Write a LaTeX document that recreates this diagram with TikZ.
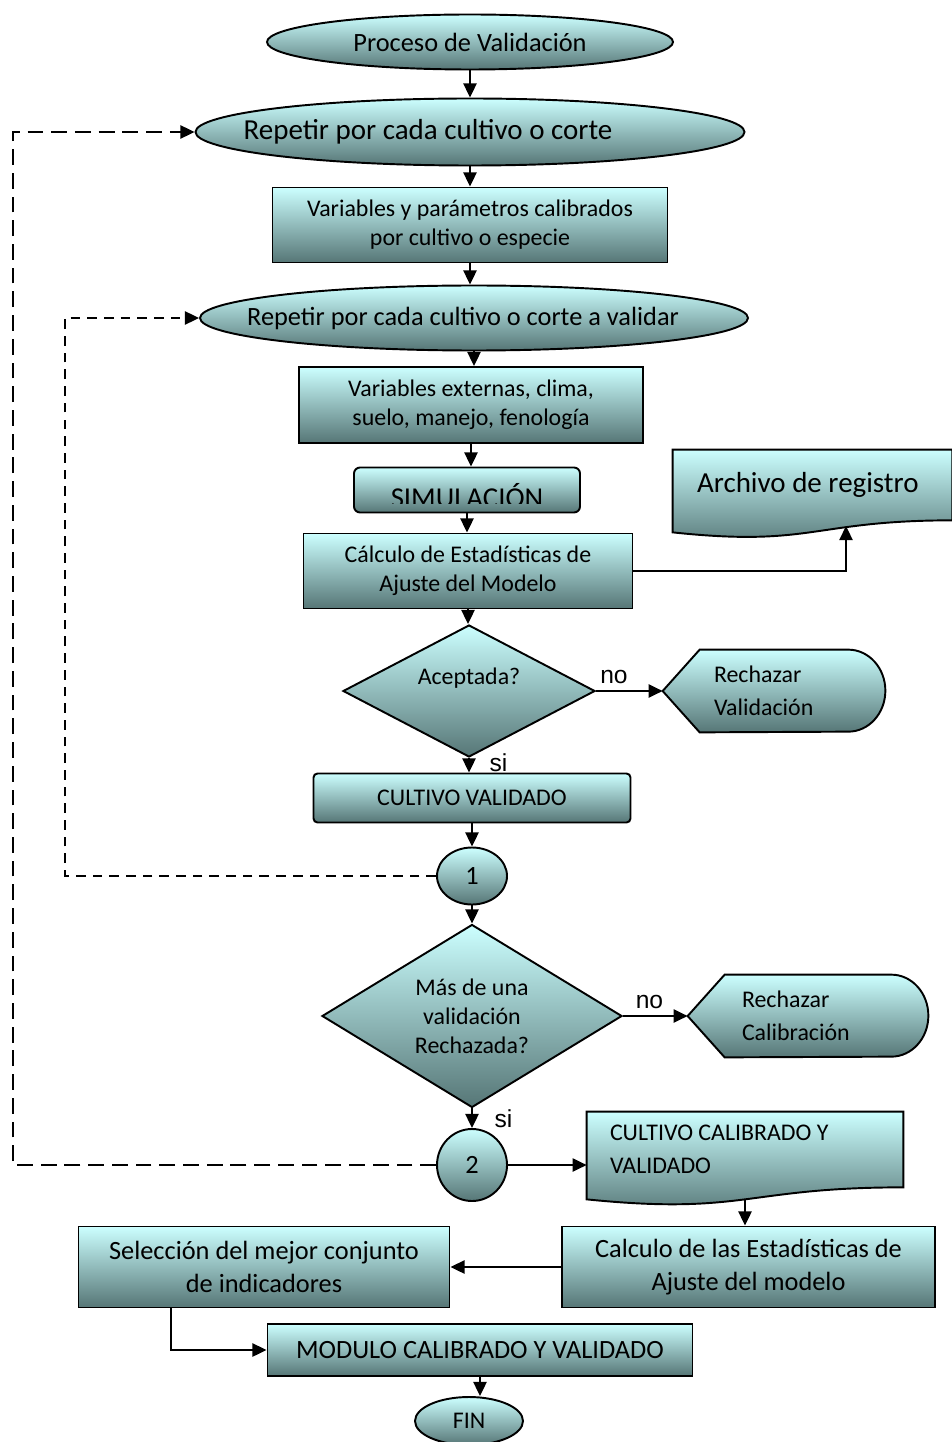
\documentclass[tikz,border=0pt]{standalone}
\usepackage{fontspec}
\setmainfont{Carlito}
\newfontfamily\arialfont{Liberation Sans}
\usetikzlibrary{shapes.geometric,arrows.meta,backgrounds}

\newlength{\pxl}
\setlength{\pxl}{0.02cm}

\definecolor{shadetop}{RGB}{204,255,255}
\definecolor{shadebot}{RGB}{86,118,118}

\tikzstyle{fillshade} = [draw,line width=1.1pt,top color=shadetop,bottom color=shadebot]
\tikzstyle{block} = [fillshade,rectangle,align=center,inner sep=0pt]
\tikzstyle{terminal} = [fillshade,ellipse,inner sep=0pt]
\tikzstyle{decision} = [fillshade,diamond,inner sep=0pt,align=center]
\tikzstyle{joint} = [fillshade,ellipse,inner sep=0pt]
\tikzstyle{textonly} = [rectangle,inner sep=0pt,align=flush left]
\tikzstyle{normaltext} = [font=\fontsize{13.6}{16.4}\selectfont]
\tikzstyle{spacedtext} = [font=\fontsize{13.6}{18.7}\selectfont]
\tikzstyle{largetext} = [font=\fontsize{15}{18.7}\selectfont]
\tikzstyle{answer} = [font=\arialfont\fontsize{14}{16}\selectfont,inner sep=1pt]
\tikzstyle{arrowdecorate} = [-{Triangle[length=8pt,width=7.5pt]},line width=1pt]
\tikzstyle{backedge} = [arrowdecorate,dash pattern=on 9pt off 4.5pt]
\tikzstyle{innerbackedge} = [arrowdecorate,dash pattern=on 5.5pt off 4pt]

\begin{document}
\begin{tikzpicture}[x=0.02cm,y=-0.02cm]
  \useasboundingbox (0,0) rectangle (952,1442);

  % main column
  \node[terminal,largetext,minimum width=406\pxl,minimum height=55\pxl] (start) at (470,42) {Proceso de Validación};
  \node[terminal,minimum width=549\pxl,minimum height=67\pxl,
    label={[font=\fontsize{16.5}{19}\selectfont,xshift=-42\pxl]center:Repetir por cada cultivo o corte}] (rep1) at (470,132) {};
  \node[block,normaltext,minimum width=395\pxl,minimum height=75\pxl] (param) at (470,225) {Variables y parámetros calibrados\\por cultivo o especie};
  \node[terminal,minimum width=548\pxl,minimum height=65\pxl,
    label={[largetext,xshift=-11\pxl]center:Repetir por cada cultivo o corte a validar}] (rep2) at (474,318) {};
  \node[block,normaltext,minimum width=344\pxl,minimum height=76\pxl] (extvar) at (471,405) {Variables externas, clima,\\suelo, manejo, fenología};
  \node[block,rounded corners=6\pxl,minimum width=226\pxl,minimum height=45\pxl,
    path picture={
      \clip ([yshift=9\pxl]path picture bounding box.south west) rectangle (path picture bounding box.north east);
      \node[font=\fontsize{16.4}{19}\selectfont,anchor=base] at ([yshift=-17\pxl]path picture bounding box.center) {SIMULACIÓN};
    }] (sim) at (467,490) {};
  \node[block,normaltext,minimum width=329\pxl,minimum height=75\pxl] (calc) at (468,571) {Cálculo de Estadísticas de\\Ajuste del Modelo};
  \node[decision,minimum width=252\pxl,minimum height=132\pxl,
    label={[normaltext,yshift=13\pxl]center:Aceptada?}] (accept) at (469,691) {};
  \node[block,normaltext,rounded corners=4\pxl,minimum width=317\pxl,minimum height=49\pxl] (cultval) at (472,798) {CULTIVO VALIDADO};
  \node[joint,largetext,minimum width=70\pxl,minimum height=57\pxl] (con1) at (472,876) {1};
  \node[decision,normaltext,shape aspect=1.6,minimum width=300\pxl,minimum height=183\pxl] (moreone) at (472,1016) {Más de una\\validación\\Rechazada?};
  \node[joint,largetext,minimum width=70\pxl,minimum height=72\pxl] (con2) at (472,1165) {2};

  % side outputs
  \node[textonly,font=\fontsize{16.5}{20}\selectfont,text width=231\pxl,inner xsep=24\pxl,minimum height=70\pxl] (logfile) at (812.5,485) {Archivo de registro};
  \node[textonly,spacedtext,text width=120\pxl,inner xsep=51\pxl,minimum height=82\pxl] (rejval) at (774,691) {Rechazar\\Validación};
  \node[textonly,spacedtext,text width=132\pxl,inner xsep=54\pxl,minimum height=82\pxl] (rejcal) at (808,1016) {Rechazar\\Calibración};
  \node[textonly,spacedtext,text width=270\pxl,inner xsep=23\pxl,minimum height=75\pxl] (ccv) at (745,1149.5) {CULTIVO CALIBRADO Y\\VALIDADO};

  % bottom part
  \node[block,largetext,minimum width=373\pxl,minimum height=81\pxl] (fitstats) at (748.5,1267) {Calculo de las Estadísticas de\\Ajuste del modelo};
  \node[block,largetext,minimum width=371\pxl,minimum height=81\pxl] (selec) at (264,1267) {Selección del mejor conjunto\\de indicadores};
  \node[block,largetext,minimum width=425\pxl,minimum height=52\pxl] (modulo) at (480,1350) {MODULO CALIBRADO Y VALIDADO};
  \node[terminal,normaltext,minimum width=108\pxl,minimum height=48\pxl] (fin) at (469,1421) {FIN};

  % document and display outlines behind the texts
  \begin{scope}[on background layer]
    \path[fillshade] (logfile.north west) -- (logfile.north east) -- (logfile.south east)
      .. controls (logfile.south) and ([yshift=-27\pxl]logfile.south) .. ([yshift=-12\pxl]logfile.south west) -- cycle;
    \path[fillshade] (ccv.north west) -- (ccv.north east) -- (ccv.south east)
      .. controls (ccv.south) and ([yshift=-28\pxl]ccv.south) .. ([yshift=-12\pxl]ccv.south west) -- cycle;
    \foreach \nodename in {rejval,rejcal}
    {
      \path[fillshade] (\nodename.west) -- ([xshift=37\pxl]\nodename.north west) -- ([xshift=-37\pxl]\nodename.north east)
        arc[start angle=90,end angle=-90,x radius=37\pxl,y radius=41\pxl]
        -- ([xshift=37\pxl]\nodename.south west) -- cycle;
    }
  \end{scope}

  \coordinate (login) at (846,526);
  \coordinate (ccvout) at (745,1199);
  \coordinate (innerturn) at (65,318);
  \coordinate (outerturn) at (13,132);

  % straight flow
  \path
  \foreach \startnode/\endnode in {
    start/rep1, rep1/param, param/rep2, rep2/extvar, extvar/sim, sim/calc,
    calc/accept, cultval/con1, con1/moreone, modulo/fin}
  {
    (\startnode.south) edge[arrowdecorate] (\startnode.south |- \endnode.north)
  };

  % answers
  \draw[arrowdecorate] (accept.south) -- (accept.south |- cultval.north)
    node[answer,anchor=west,xshift=18\pxl,pos=0.3] {si};
  \draw[arrowdecorate] (moreone.south) -- (moreone.south |- con2.north)
    node[answer,anchor=west,xshift=20\pxl,pos=0.5] {si};
  \draw[arrowdecorate] (accept.east) -- (rejval.west)
    node[answer,anchor=south,yshift=5\pxl,pos=0.27] {no};
  \draw[arrowdecorate] (moreone.east) -- (rejcal.west)
    node[answer,anchor=south,yshift=5\pxl,pos=0.41] {no};

  %edges to the side
  \draw[arrowdecorate] (calc.east) -| (login);
  \draw[arrowdecorate] (con2.east) -- (con2.east -| ccv.west);
  \draw[arrowdecorate] (ccvout) -- (ccvout |- fitstats.north);
  \draw[arrowdecorate] (fitstats.west) -- (selec.east);
  \draw[arrowdecorate] ([xshift=-93\pxl]selec.south) |- (modulo.west);

  % loops back
  \draw[innerbackedge] (con1.west) -| (innerturn) -- (rep2.west);
  \draw[backedge] (con2.west) -| (outerturn) -- (rep1.west);

\end{tikzpicture}
\end{document}
